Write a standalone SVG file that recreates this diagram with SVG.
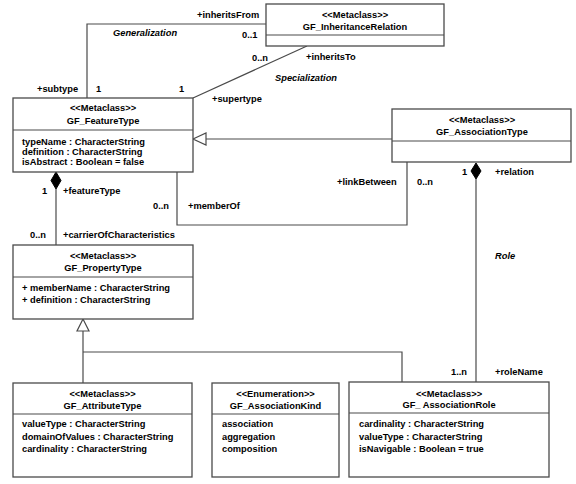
<svg xmlns="http://www.w3.org/2000/svg" width="576" height="484" viewBox="0 0 576 484">
<style>
text{font-family:"Liberation Sans",Arial,sans-serif;font-size:9.3px;font-weight:bold;fill:#000}
.c{text-anchor:middle}
.i{font-style:italic}
.box{fill:#fff;stroke:#4a4a4a;stroke-width:1.3}
.ln{fill:none;stroke:#4a4a4a;stroke-width:1.2}
.dia{fill:#000;stroke:#000;stroke-width:1}
.tri{fill:#fff;stroke:#4a4a4a;stroke-width:1.2}
</style>
<rect width="576" height="484" fill="#fff"/>
<g id="connectors">
<polyline class="ln" points="87,98 87,24 266,24"/>
<line class="ln" x1="193" y1="98" x2="307" y2="46"/>
<line class="ln" x1="392" y1="139" x2="206" y2="139"/>
<polygon class="tri" points="193,139 206,133 206,145"/>
<polyline class="ln" points="177,172 177,225 407,225 407,162"/>
<line class="ln" x1="476" y1="179" x2="476" y2="382"/>
<polygon class="dia" points="476,163 481,171 476,179 471,171"/>
<line class="ln" x1="56" y1="189" x2="56" y2="245"/>
<polygon class="dia" points="56,172 61,180.5 56,189 51,180.5"/>
<line class="ln" x1="83" y1="331" x2="83" y2="383"/>
<polyline class="ln" points="83,352 402,352 402,382"/>
<polygon class="tri" points="83,319 77,331 89,331"/>
<text x="197" y="18">+inheritsFrom</text>
<text x="113" y="36" class="i">Generalization</text>
<text x="242" y="38">0..1</text>
<text x="252" y="61">0..n</text>
<text x="306" y="60">+inheritsTo</text>
<text x="275" y="81" class="i">Specialization</text>
<text x="37" y="92">+subtype</text>
<text x="96" y="92">1</text>
<text x="179" y="92">1</text>
<text x="212" y="102">+supertype</text>
<text x="153" y="209">0..n</text>
<text x="188" y="209">+memberOf</text>
<text x="337" y="185">+linkBetween</text>
<text x="417" y="185">0..n</text>
<text x="462" y="175">1</text>
<text x="495" y="175">+relation</text>
<text x="495" y="259" class="i">Role</text>
<text x="42" y="194">1</text>
<text x="63" y="194">+featureType</text>
<text x="30" y="238">0..n</text>
<text x="63" y="238">+carrierOfCharacteristics</text>
<text x="451" y="375">1..n</text>
<text x="495" y="375">+roleName</text>
</g>
<g id="GF_InheritanceRelation">
<rect class="box" x="266" y="4" width="178" height="42"/>
<line class="ln" x1="266" y1="35" x2="444" y2="35"/>
<text x="355" y="17.5" class="c">&lt;&lt;Metaclass&gt;&gt;</text>
<text x="355" y="29.5" class="c">GF_InheritanceRelation</text>
</g>
<g id="GF_FeatureType">
<rect class="box" x="13" y="98" width="180" height="74"/>
<line class="ln" x1="13" y1="130" x2="193" y2="130"/>
<text x="103" y="111" class="c">&lt;&lt;Metaclass&gt;&gt;</text>
<text x="103" y="124" class="c">GF_FeatureType</text>
<text x="22" y="144.5">typeName : CharacterString</text>
<text x="22" y="155">definition : CharacterString</text>
<text x="22" y="165">isAbstract : Boolean = false</text>
</g>
<g id="GF_AssociationType">
<rect class="box" x="392" y="109" width="179" height="53"/>
<line class="ln" x1="392" y1="141" x2="571" y2="141"/>
<text x="482" y="123" class="c">&lt;&lt;Metaclass&gt;&gt;</text>
<text x="482" y="135" class="c">GF_AssociationType</text>
</g>
<g id="GF_PropertyType">
<rect class="box" x="13" y="245" width="180" height="74"/>
<line class="ln" x1="13" y1="277" x2="193" y2="277"/>
<text x="103" y="258.5" class="c">&lt;&lt;Metaclass&gt;&gt;</text>
<text x="103" y="271" class="c">GF_PropertyType</text>
<text x="22" y="291">+ memberName : CharacterString</text>
<text x="22" y="303">+ definition : CharacterString</text>
</g>
<g id="GF_AttributeType">
<rect class="box" x="13" y="383" width="179" height="94"/>
<line class="ln" x1="13" y1="414" x2="192" y2="414"/>
<text x="102.5" y="396.5" class="c">&lt;&lt;Metaclass&gt;&gt;</text>
<text x="102.5" y="408.5" class="c">GF_AttributeType</text>
<text x="22" y="427">valueType : CharacterString</text>
<text x="22" y="439.5">domainOfValues : CharacterString</text>
<text x="22" y="452">cardinality : CharacterString</text>
</g>
<g id="GF_AssociationKind">
<rect class="box" x="212" y="383" width="127" height="94"/>
<line class="ln" x1="212" y1="414" x2="339" y2="414"/>
<text x="275.5" y="396.5" class="c">&lt;&lt;Enumeration&gt;&gt;</text>
<text x="275.5" y="408.5" class="c">GF_AssociationKind</text>
<text x="222" y="427">association</text>
<text x="222" y="439.5">aggregation</text>
<text x="222" y="452">composition</text>
</g>
<g id="GF_AssociationRole">
<rect class="box" x="349" y="382" width="200" height="95"/>
<line class="ln" x1="349" y1="413" x2="549" y2="413"/>
<text x="449" y="396.5" class="c">&lt;&lt;Metaclass&gt;&gt;</text>
<text x="449" y="408" class="c">GF_ AssociationRole</text>
<text x="359" y="427">cardinality : CharacterString</text>
<text x="359" y="439.5">valueType : CharacterString</text>
<text x="359" y="452">isNavigable : Boolean = true</text>
</g>
</svg>
